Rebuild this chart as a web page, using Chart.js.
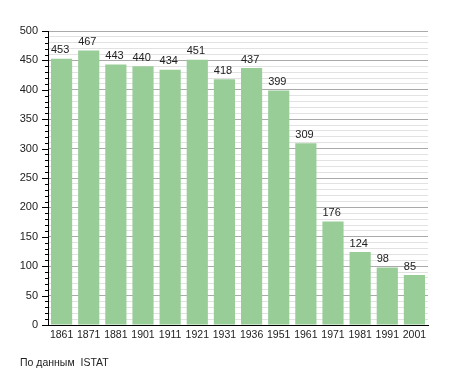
<!DOCTYPE html>
<html>
<head>
<meta charset="utf-8">
<script src="https://cdn.jsdelivr.net/npm/chart.js@4"></script>
<style>
  html, body { margin: 0; padding: 0; background: #fff; }
  #wrap { width: 455px; height: 373px; position: relative; }
</style>
</head>
<body>
<div id="wrap"><canvas id="abitanti"></canvas></div>
<script>
const anni = ["1861", "1871", "1881", "1901", "1911", "1921", "1931", "1936", "1951", "1961", "1971", "1981", "1991", "2001"];
const abitanti = [453, 467, 443, 440, 434, 451, 418, 437, 399, 309, 176, 124, 98, 85];
const fonte = "По данным  ISTAT";

Chart.defaults.font.family = "Liberation Sans";
Chart.defaults.font.size = 11;
Chart.defaults.color = "#222";

// etichette sopra le barre, tacche dell'asse e nota della fonte
const extras = {
    id: "extras",
    afterDatasetsDraw(chart) {
        const c = chart.ctx;
        const meta = chart.getDatasetMeta(0);
        c.save();
        c.font = "11px Liberation Sans";
        c.fillStyle = "#222";
        c.textAlign = "left";
        c.textBaseline = "bottom";
        meta.data.forEach((bar, i) => {
            c.fillText(abitanti[i], bar.x - bar.width / 2, bar.y - 3);
        });
        const y = chart.scales.y;
        c.strokeStyle = "#000";
        c.lineWidth = 1;
        y.ticks.forEach(t => {
            const py = Math.round(y.getPixelForValue(t.value)) + 0.5;
            const len = t.value % 50 === 0 ? 6 : 3;
            c.beginPath();
            c.moveTo(y.right - len, py);
            c.lineTo(y.right, py);
            c.stroke();
        });
        c.font = "10.5px Liberation Sans";
        c.textBaseline = "alphabetic";
        c.fillText(fonte, 20, 366);
        c.restore();
    },
};

new Chart(document.getElementById("abitanti"), {
    type: "bar",
    data: {
        labels: anni,
        datasets: [
            {
                data: abitanti,
                backgroundColor: "#98cd98",
                barPercentage: 0.78,
                categoryPercentage: 1,
            },
        ],
    },
    options: {
        responsive: true,
        maintainAspectRatio: false,
        animation: false,
        layout: {
            padding: { left: 0, right: 27, top: 31, bottom: 0 },
        },
        plugins: {
            legend: { display: false },
            tooltip: { enabled: false },
        },
        scales: {
            x: {
                grid: { display: false, drawTicks: false },
                border: { color: "#000", width: 1 },
                ticks: {
                    padding: 4,
                    color: "#222",
                    maxRotation: 0,
                    autoSkip: false,
                    font: { size: 10.5 },
                },
                afterFit(scale) { scale.height = 48; },
            },
            y: {
                min: 0,
                max: 500,
                grid: {
                    drawTicks: false,
                    color: (ctx) => {
                        const v = ctx.tick.value;
                        if (v % 50 === 0) return "#aaa";
                        return "#e2e2e2";
                    },
                },
                border: { color: "#000", width: 1 },
                ticks: {
                    stepSize: 10,
                    autoSkip: false,
                    padding: 10,
                    color: "#222",
                    callback: (v) => (v % 50 === 0 ? v : ""),
                },
                afterFit(scale) { scale.width = 48; },
            },
        },
    },
    plugins: [extras],
});
</script>
</body>
</html>
